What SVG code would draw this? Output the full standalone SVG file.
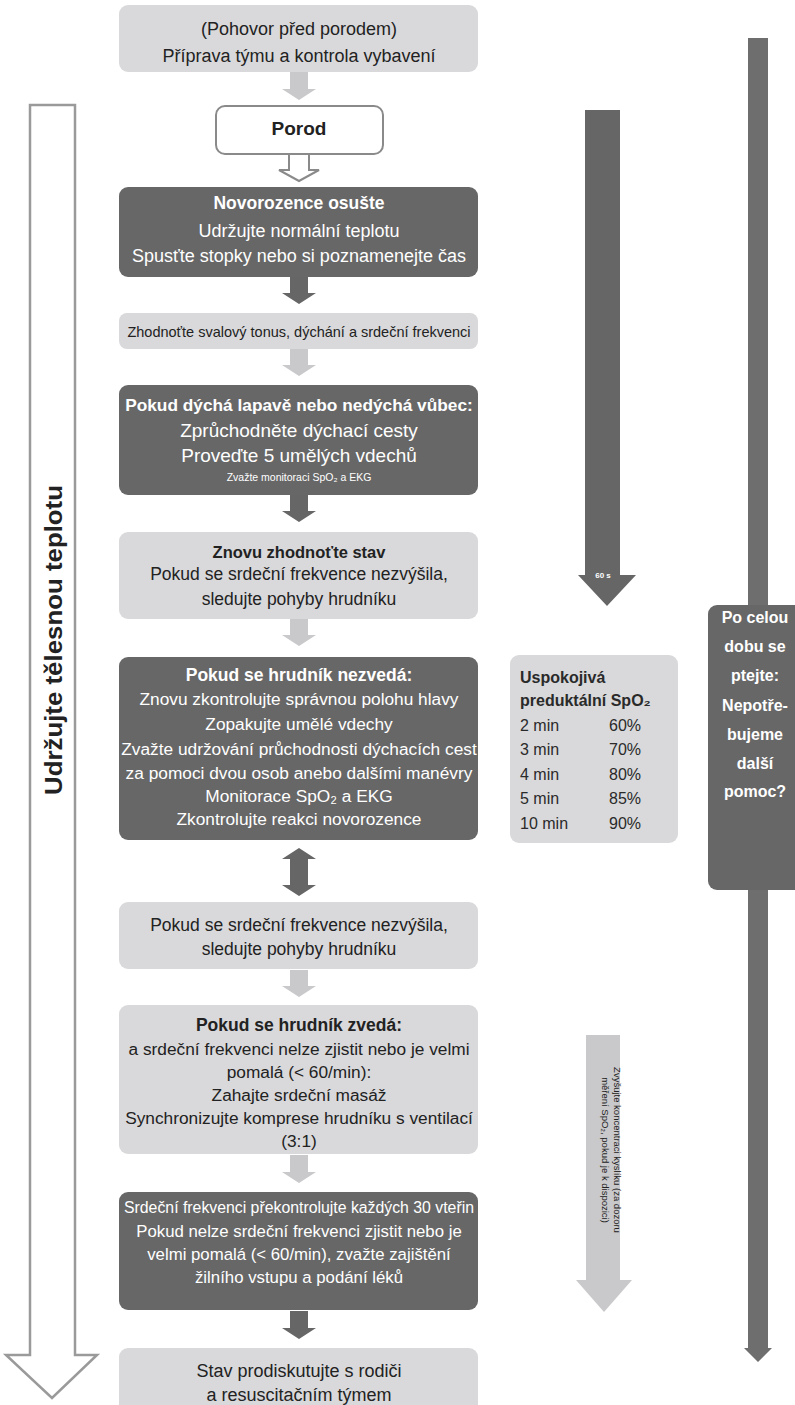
<svg xmlns="http://www.w3.org/2000/svg" width="795" height="1405" viewBox="0 0 795 1405">
<style>
.dark{fill:#676767}
.light{fill:#d9d9db}
.larr{fill:#c9c9cb}
.darr{fill:#666666}
.t{font-family:"Liberation Sans",Arial,sans-serif;text-anchor:middle}
.w{fill:#ffffff}
.k{fill:#222222}
.b{font-weight:bold}
.s{font-family:"Liberation Sans",Arial,sans-serif;fill:#2a2a2a;font-size:16px}
</style>
<rect width="795" height="1405" fill="#ffffff"/>

<g id="side-left">
<path d="M30,105 H75 V1355 H97 L52,1398 L6,1355 H30 Z" fill="#ffffff" stroke="#9a9a9a" stroke-width="2.5"/>
<text class="t b k" font-size="24" textLength="310" lengthAdjust="spacingAndGlyphs" transform="translate(62,640) rotate(-90)">Udržujte tělesnou teplotu</text>
</g>

<g id="side-60s">
<path d="M585,110 H620 V575 H636 L607,606 L578,575 H585 Z" class="darr"/>
<text class="t b w" font-size="8" x="603" y="578">60 s</text>
</g>

<g id="side-o2">
<path d="M586,1035 H620 V1280 H632 L604,1312 L576,1280 H586 Z" class="larr"/>
<text class="t k" font-size="9.5" transform="translate(614,1150) rotate(90)">Zvyšujte koncentraci kyslíku (za dozoru</text>
<text class="t k" font-size="9.5" transform="translate(602,1150) rotate(90)">měření SpO₂, pokud je k dispozici)</text>
</g>

<g id="side-right">
<path d="M748,38 H768 V1348 H772 L758,1362 L744,1348 H748 Z" fill="#6e6e6e"/>
<rect x="708" y="605" width="110" height="285" rx="9" class="dark"/>
<g class="t b w" font-size="16">
<text x="755" y="623">Po celou</text>
<text x="755" y="652">dobu se</text>
<text x="755" y="681">ptejte:</text>
<text x="755" y="711">Nepotře-</text>
<text x="755" y="740">bujeme</text>
<text x="755" y="769">další</text>
<text x="755" y="797">pomoc?</text>
</g>
</g>

<g id="connectors">
<path d="M290,72 H308 V89 H316 L299,100 L282,89 H290 Z" class="larr"/>
<path d="M289,154 H309 V170 H319 L299,181 L279,170 H289 Z" fill="#ffffff" stroke="#8a8a8a" stroke-width="2"/>
<path d="M290,277 H308 V293 H316 L299,304 L282,293 H290 Z" class="darr"/>
<path d="M290,349 H308 V365 H316 L299,376 L282,365 H290 Z" class="larr"/>
<path d="M290,495 H308 V511 H316 L299,522 L282,511 H290 Z" class="darr"/>
<path d="M290,619 H308 V635 H316 L299,646 L282,635 H290 Z" class="larr"/>
<path d="M299,848 L316,859 H308 V885 H316 L299,896 L282,885 H290 V859 H282 Z" class="darr"/>
<path d="M290,970 H308 V986 H316 L299,997 L282,986 H290 Z" class="larr"/>
<path d="M290,1155 H308 V1172 H316 L299,1183 L282,1172 H290 Z" class="larr"/>
<path d="M290,1311 H308 V1328 H316 L299,1339 L282,1328 H290 Z" class="darr"/>
</g>

<g id="n1">
<rect x="119" y="5" width="359" height="67" rx="9" class="light"/>
<text class="t k" font-size="18" x="299" y="35">(Pohovor před porodem)</text>
<text class="t k" font-size="18" x="299" y="62">Příprava týmu a kontrola vybavení</text>
</g>

<g id="n2">
<rect x="216" y="106" width="167" height="48" rx="9" fill="#ffffff" stroke="#8a8a8a" stroke-width="2"/>
<text class="t b k" font-size="19" x="299" y="135">Porod</text>
</g>

<g id="n3">
<rect x="119" y="187" width="359" height="90" rx="9" class="dark"/>
<text class="t b w" font-size="17.5" x="299" y="209">Novorozence osušte</text>
<text class="t w" font-size="18" x="299" y="237">Udržujte normální teplotu</text>
<text class="t w" font-size="18" x="299" y="262">Spusťte stopky nebo si poznamenejte čas</text>
</g>

<g id="n4">
<rect x="119" y="313" width="359" height="36" rx="8" class="light"/>
<text class="t k" font-size="14.5" x="299" y="337">Zhodnoťte svalový tonus, dýchání a srdeční frekvenci</text>
</g>

<g id="n5">
<rect x="119" y="385" width="359" height="110" rx="9" class="dark"/>
<text class="t b w" font-size="17.3" x="299" y="411">Pokud dýchá lapavě nebo nedýchá vůbec:</text>
<text class="t w" font-size="19" x="299" y="437">Zprůchodněte dýchací cesty</text>
<text class="t w" font-size="19" x="299" y="462">Proveďte 5 umělých vdechů</text>
<text class="t w" font-size="10.5" x="299" y="481">Zvažte monitoraci SpO₂ a EKG</text>
</g>

<g id="n6">
<rect x="119" y="532" width="359" height="87" rx="9" class="light"/>
<text class="t b k" font-size="16.5" x="299" y="558">Znovu zhodnoťte stav</text>
<text class="t k" font-size="17.5" x="299" y="580">Pokud se srdeční frekvence nezvýšila,</text>
<text class="t k" font-size="17.5" x="299" y="605">sledujte pohyby hrudníku</text>
</g>

<g id="n7">
<rect x="119" y="657" width="359" height="183" rx="9" class="dark"/>
<text class="t b w" font-size="17.5" x="299" y="681">Pokud se hrudník nezvedá:</text>
<text class="t w" font-size="17.3" x="299" y="705">Znovu zkontrolujte správnou polohu hlavy</text>
<text class="t w" font-size="17.3" x="299" y="730">Zopakujte umělé vdechy</text>
<text class="t w" font-size="17.3" x="299" y="755">Zvažte udržování průchodnosti dýchacích cest</text>
<text class="t w" font-size="17.3" x="299" y="779">za pomoci dvou osob anebo dalšími manévry</text>
<text class="t w" font-size="17.3" x="299" y="802">Monitorace SpO₂ a EKG</text>
<text class="t w" font-size="17.3" x="299" y="825">Zkontrolujte reakci novorozence</text>
</g>

<g id="n8">
<rect x="119" y="902" width="359" height="67" rx="9" class="light"/>
<text class="t k" font-size="17.5" x="299" y="931">Pokud se srdeční frekvence nezvýšila,</text>
<text class="t k" font-size="17.5" x="299" y="955">sledujte pohyby hrudníku</text>
</g>

<g id="n9">
<rect x="119" y="1005" width="359" height="149" rx="9" class="light"/>
<text class="t b k" font-size="17.5" x="299" y="1031">Pokud se hrudník zvedá:</text>
<text class="t k" font-size="17.3" x="299" y="1055">a srdeční frekvenci nelze zjistit nebo je velmi</text>
<text class="t k" font-size="17.3" x="299" y="1078">pomalá (&lt; 60/min):</text>
<text class="t k" font-size="17.3" x="299" y="1101">Zahajte srdeční masáž</text>
<text class="t k" font-size="17.3" x="299" y="1124">Synchronizujte komprese hrudníku s ventilací</text>
<text class="t k" font-size="17.3" x="299" y="1147">(3:1)</text>
</g>

<g id="n10">
<rect x="119" y="1192" width="359" height="118" rx="9" class="dark"/>
<text class="t w" font-size="16" x="299" y="1213" textLength="350" lengthAdjust="spacingAndGlyphs">Srdeční frekvenci překontrolujte každých 30 vteřin</text>
<text class="t w" font-size="16.8" x="299" y="1237">Pokud nelze srdeční frekvenci zjistit nebo je</text>
<text class="t w" font-size="16.8" x="299" y="1260">velmi pomalá (&lt; 60/min), zvažte zajištění</text>
<text class="t w" font-size="16.8" x="299" y="1283">žilního vstupu a podání léků</text>
</g>

<g id="n11">
<rect x="119" y="1348" width="359" height="70" rx="9" class="light"/>
<text class="t k" font-size="18" x="299" y="1377">Stav prodiskutujte s rodiči</text>
<text class="t k" font-size="18" x="299" y="1401">a resuscitačním týmem</text>
</g>

<g id="spo2">
<rect x="510" y="655" width="168" height="188" rx="9" class="light"/>
<text class="s b" x="520" y="683">Uspokojivá</text>
<text class="s b" x="520" y="706">preduktální SpO₂</text>
<text class="s" x="520" y="731">2 min</text><text class="s" x="609" y="731">60%</text>
<text class="s" x="520" y="755">3 min</text><text class="s" x="609" y="755">70%</text>
<text class="s" x="520" y="780">4 min</text><text class="s" x="609" y="780">80%</text>
<text class="s" x="520" y="804">5 min</text><text class="s" x="609" y="804">85%</text>
<text class="s" x="520" y="829">10 min</text><text class="s" x="609" y="829">90%</text>
</g>
</svg>
